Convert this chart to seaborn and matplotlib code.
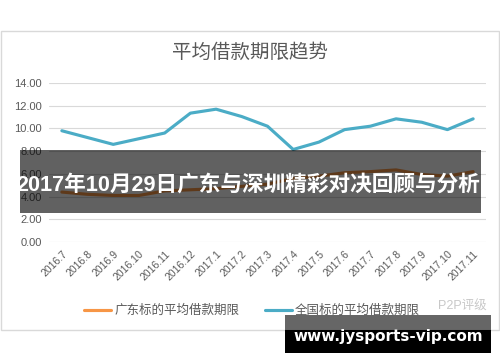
import matplotlib
matplotlib.use("Agg")
import matplotlib.pyplot as plt
from matplotlib.patches import Rectangle
import seaborn as sns
import pandas as pd

months = ["2016.7", "2016.8", "2016.9", "2016.10", "2016.11", "2016.12",
          "2017.1", "2017.2", "2017.3", "2017.4", "2017.5", "2017.6",
          "2017.7", "2017.8", "2017.9", "2017.10", "2017.11"]
guangdong = [4.4, 4.2, 4.1, 4.1, 4.5, 4.6, 4.7, 4.9, 5.1, 5.6, 5.8, 6.1,
             6.2, 6.35, 5.95, 5.8, 6.2]
national = [9.8, 9.2, 8.6, 9.1, 9.6, 11.35, 11.7, 11.05, 10.2, 8.15, 8.8,
            9.9, 10.2, 10.85, 10.55, 9.9, 10.85]
series_names = ["广东标的平均借款期限", "全国标的平均借款期限"]
yticks = [0, 2, 4, 6, 8, 10, 12, 14]
title = "平均借款期限趋势"
banner = "2017年10月29日广东与深圳精彩对决回顾与分析"
watermark = "www.jysports-vip.com"
logo_text = "P2P评级"

sns.set_theme(style="white")
plt.rcParams["font.family"] = ["Liberation Sans", "Noto Sans CJK SC", "DejaVu Sans"]

df = pd.DataFrame({
    "month": months * 2,
    "value": guangdong + national,
    "series": [series_names[0]] * len(months) + [series_names[1]] * len(months),
})
df["x"] = list(range(len(months))) * 2

fig = plt.figure(figsize=(5, 3.62), dpi=100)
ax = fig.add_axes([0.098, 0.3315, 0.874, 0.439])
palette = {series_names[0]: "#F79646", series_names[1]: "#4BACC6"}
sns.lineplot(data=df, x="x", y="value", hue="series", palette=palette,
             linewidth=2.25, ax=ax, legend=False, zorder=3)

ax.set_xlim(-0.5, len(months) - 0.5)
ax.set_ylim(0, 14)
ax.set_yticks(yticks)
ax.set_yticklabels([f"{v:.2f}" for v in yticks], fontsize=8, color="#595959")
ax.set_xticks(range(len(months)))
ax.set_xticklabels(months, rotation=45, ha="right", rotation_mode="anchor",
                   fontsize=7.5, color="#595959")
ax.tick_params(axis="both", length=0, pad=5)
ax.grid(axis="y", color="#D9D9D9", linewidth=0.8)
ax.set_axisbelow(True)
for s in ax.spines.values():
    s.set_visible(False)
ax.set_xlabel("")
ax.set_ylabel("")

# chart border
fig.add_artist(Rectangle((0.002, 0.0884), 0.996, 0.8246, transform=fig.transFigure,
                         fill=False, edgecolor="#D9D9D9", linewidth=1))

fig.text(0.5, 0.854, title, ha="center", va="center", fontsize=14, color="#595959")

handles = [plt.Line2D([], [], color=palette[n], linewidth=2.25) for n in series_names]
fig.legend(handles, series_names, loc="center", bbox_to_anchor=(0.504, 0.141), ncol=2,
           frameon=False, fontsize=9, labelcolor="#595959", handlelength=2.2,
           handletextpad=0.25, columnspacing=2.0)

fig.text(0.925, 0.152, logo_text, ha="center", va="center", fontsize=9, color="#C8C8C8")

# overlay banner
fig.add_artist(Rectangle((0.04, 0.4124), 0.922, 0.1732, transform=fig.transFigure,
                         facecolor="black", alpha=0.62, edgecolor="none", zorder=10))
fig.text(0.496, 0.489, banner, ha="center", va="center", fontsize=15.6, fontweight="bold",
         color="white", zorder=11)

# watermark box
fig.add_artist(Rectangle((0.57, 0.0884), 0.412, 0.041, transform=fig.transFigure,
                         facecolor="black", alpha=0.6, edgecolor="none", zorder=10))
fig.add_artist(Rectangle((0.57, 0.025), 0.412, 0.0634, transform=fig.transFigure,
                         facecolor="black", edgecolor="none", zorder=10))
fig.text(0.776, 0.07, watermark, ha="center", va="center", fontsize=11, fontweight="bold",
         color="white", family=["DejaVu Sans"], zorder=11)

fig.savefig("out.png", dpi=100)
